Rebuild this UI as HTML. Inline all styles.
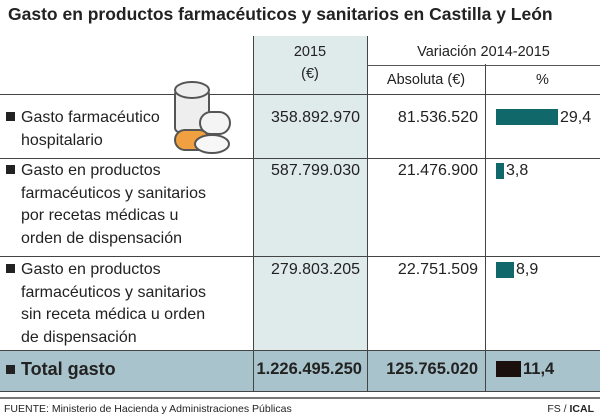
<!DOCTYPE html>
<html><head><meta charset="utf-8"><style>
body{margin:0;width:600px;height:417px;background:#fff;font-family:"Liberation Sans",sans-serif;color:#222;position:relative;overflow:hidden}
.a{position:absolute;white-space:nowrap}
.t{font-size:16px;line-height:22.5px}
.r{text-align:right}
.sq{display:inline-block;width:9px;height:9px;background:#222;margin-right:6px;vertical-align:1px}
</style></head><body>
<div class="a" style="left:8px;top:4px;font-size:17.5px;font-weight:bold;color:#222">Gasto en productos farmacéuticos y sanitarios en Castilla y León</div>
<div class="a" style="left:253px;top:36px;width:114px;height:314px;background:#dfeaea"></div>
<div class="a" style="left:0;top:350px;width:600px;height:41px;background:#a8c3cb"></div>
<div class="a" style="left:253px;top:36px;width:1px;height:355px;background:#444"></div>
<div class="a" style="left:367px;top:36px;width:1px;height:355px;background:#444"></div>
<div class="a" style="left:485px;top:64px;width:1px;height:327px;background:#444"></div>
<div class="a" style="left:367px;top:65px;width:233px;height:1px;background:#555"></div>
<div class="a" style="left:0;top:94px;width:600px;height:1px;background:#444"></div>
<div class="a" style="left:0;top:158px;width:600px;height:1px;background:#444"></div>
<div class="a" style="left:0;top:256px;width:600px;height:1px;background:#444"></div>
<div class="a" style="left:0;top:350px;width:600px;height:1px;background:#444"></div>
<div class="a" style="left:0;top:391px;width:600px;height:1px;background:#444"></div>
<div class="a" style="left:0;top:397px;width:600px;height:2px;background:#777"></div>
<div class="a t" style="left:253px;top:41px;width:114px;text-align:center;font-size:14.5px">2015</div>
<div class="a t" style="left:253px;top:63px;width:114px;text-align:center;font-size:14.5px">(€)</div>
<div class="a t" style="left:367px;top:41px;width:233px;text-align:center;font-size:14.5px">Variación 2014-2015</div>
<div class="a t" style="left:367px;top:69px;width:118px;text-align:center;font-size:14.5px">Absoluta (€)</div>
<div class="a t" style="left:485px;top:69px;width:115px;text-align:center;font-size:14.5px">%</div>
<svg class="a" style="left:172px;top:78px" width="62" height="82" viewBox="0 0 62 82">
<g stroke="#555" stroke-width="2" fill="#eee">
<rect x="3" y="12" width="34" height="42" rx="4"/><ellipse cx="20" cy="12" rx="17" ry="8"/>
<rect x="28" y="34" width="30" height="22" rx="11" fill="#f4f4f4"/>
<rect x="3" y="52" width="34" height="20" rx="10" fill="#f0a040"/>
<ellipse cx="40" cy="66" rx="17" ry="9" fill="#f7f7f7"/></g></svg>
<div class="a t" style="left:6px;top:107px"><span class="sq"></span>Gasto farmacéutico<br><span style="margin-left:15px">hospitalario</span></div>
<div class="a t" style="left:6px;top:160px"><span class="sq"></span>Gasto en productos<br><span style="margin-left:15px">farmacéuticos y sanitarios</span><br><span style="margin-left:15px">por recetas médicas u</span><br><span style="margin-left:15px">orden de dispensación</span></div>
<div class="a t" style="left:6px;top:259px"><span class="sq"></span>Gasto en productos<br><span style="margin-left:15px">farmacéuticos y sanitarios</span><br><span style="margin-left:15px">sin receta médica u orden</span><br><span style="margin-left:15px">de dispensación</span></div>
<div class="a t" style="left:6px;top:358px;font-weight:bold;font-size:18px"><span class="sq"></span>Total gasto</div>
<div class="a t r" style="left:253px;top:107px;width:107px">358.892.970</div>
<div class="a t r" style="left:367px;top:107px;width:111px">81.536.520</div>
<div class="a t r" style="left:253px;top:160px;width:107px">587.799.030</div>
<div class="a t r" style="left:367px;top:160px;width:111px">21.476.900</div>
<div class="a t r" style="left:253px;top:259px;width:107px">279.803.205</div>
<div class="a t r" style="left:367px;top:259px;width:111px">22.751.509</div>
<div class="a t r" style="left:253px;top:358px;width:109px;font-weight:bold;font-size:16.5px">1.226.495.250</div>
<div class="a t r" style="left:367px;top:358px;width:111px;font-weight:bold;font-size:16.5px">125.765.020</div>
<div class="a" style="left:496px;top:109px;width:62px;height:16px;background:#11686a"></div>
<div class="a t" style="left:560px;top:107px">29,4</div>
<div class="a" style="left:496px;top:163px;width:8px;height:16px;background:#11686a"></div>
<div class="a t" style="left:506px;top:160px">3,8</div>
<div class="a" style="left:496px;top:262px;width:18px;height:16px;background:#11686a"></div>
<div class="a t" style="left:516px;top:259px">8,9</div>
<div class="a" style="left:496px;top:361px;width:25px;height:16px;background:#1a0f0c"></div>
<div class="a t" style="left:523px;top:358px;font-weight:bold;font-size:16.5px">11,4</div>
<div class="a" style="left:4px;top:403px;font-size:10.5px">FUENTE: Ministerio de Hacienda y Administraciones Públicas</div>
<div class="a" style="right:6px;top:403px;font-size:10.5px">FS / <b>ICAL</b></div>
</body></html>
